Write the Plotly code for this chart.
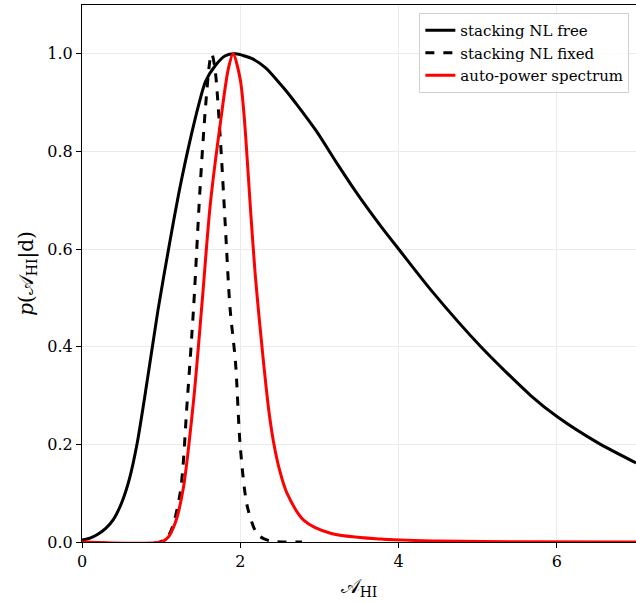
import plotly.graph_objects as go

# stacking NL free
free_x = [0.0, 0.1, 0.2, 0.3, 0.4, 0.5, 0.6, 0.7, 0.82, 0.96, 1.11, 1.22, 1.30, 1.39, 1.47, 1.56, 1.68, 1.81, 1.94, 2.15, 2.32, 2.48, 2.57, 2.71, 2.96, 3.22, 3.47, 3.77, 4.03, 4.41, 5.04, 5.67, 6.01, 6.52, 7.0]
free_y = [0.004, 0.008, 0.016, 0.028, 0.047, 0.08, 0.13, 0.205, 0.326, 0.475, 0.615, 0.712, 0.775, 0.84, 0.893, 0.943, 0.975, 0.996, 1.0, 0.99, 0.971, 0.943, 0.926, 0.897, 0.842, 0.776, 0.715, 0.648, 0.594, 0.516, 0.40, 0.30, 0.256, 0.203, 0.162]

# stacking NL fixed
fixed_x = [0.0, 0.99, 1.11, 1.24, 1.33, 1.41, 1.49, 1.56, 1.62, 1.64, 1.68, 1.75, 1.81, 1.87, 1.94, 2.0, 2.09, 2.22, 2.38, 2.55, 2.78]
fixed_y = [0.0, 0.0, 0.018, 0.10, 0.29, 0.48, 0.72, 0.89, 0.99, 1.0, 0.97, 0.82, 0.65, 0.48, 0.367, 0.195, 0.072, 0.015, 0.002, 0.0, 0.0]

# auto-power spectrum
auto_x = [0.0, 1.0, 1.08, 1.18, 1.28, 1.41, 1.52, 1.62, 1.75, 1.85, 1.91, 2.0, 2.05, 2.13, 2.19, 2.28, 2.36, 2.42, 2.5, 2.59, 2.80, 3.14, 3.77, 4.5, 5.5, 7.0]
auto_y = [0.0, 0.0, 0.008, 0.04, 0.11, 0.29, 0.496, 0.69, 0.86, 0.97, 1.0, 0.947, 0.87, 0.68, 0.545, 0.39, 0.27, 0.205, 0.145, 0.10, 0.045, 0.018, 0.006, 0.002, 0.0005, 0.0]

font_family = "DejaVu Serif"

fig = go.Figure()
fig.add_trace(go.Scatter(x=free_x, y=free_y, mode="lines", name="stacking NL free",
                         line=dict(color="black", width=3, shape="spline", smoothing=0.7)))
fig.add_trace(go.Scatter(x=fixed_x, y=fixed_y, mode="lines", name="stacking NL fixed",
                         line=dict(color="black", width=3, dash="dash", shape="spline", smoothing=0.8)))
fig.add_trace(go.Scatter(x=auto_x, y=auto_y, mode="lines", name="auto-power spectrum",
                         line=dict(color="red", width=3, shape="spline", smoothing=0.8)))

fig.update_layout(
    width=636, height=603,
    margin=dict(l=82, r=0, t=5, b=61),
    plot_bgcolor="white", paper_bgcolor="white",
    font=dict(family=font_family, size=16, color="black"),
    showlegend=True,
    legend=dict(x=0.988, y=0.985, xanchor="right", yanchor="top",
                bgcolor="rgba(255,255,255,0.8)", bordercolor="#d0d0d0", borderwidth=1,
                font=dict(family=font_family, size=15), tracegroupgap=0),
    xaxis=dict(range=[0, 7], tickvals=[0, 2, 4, 6], showgrid=True, gridcolor="#ebebeb",
               showline=True, linecolor="black", linewidth=1, mirror=True,
               ticks="outside", ticklen=5, tickcolor="black", zeroline=False,
               title=dict(text="𝒜<sub>HI</sub>", font=dict(size=20), standoff=8)),
    yaxis=dict(range=[0, 1.1], tickvals=[0, 0.2, 0.4, 0.6, 0.8, 1.0], tickformat=".1f",
               showgrid=True, gridcolor="#ebebeb",
               showline=True, linecolor="black", linewidth=1, mirror=True,
               ticks="outside", ticklen=5, tickcolor="black", zeroline=False,
               title=dict(text="<i>p</i>(𝒜<sub>HI</sub>|d)", font=dict(size=20), standoff=8)),
)

fig.write_html("out.html")
